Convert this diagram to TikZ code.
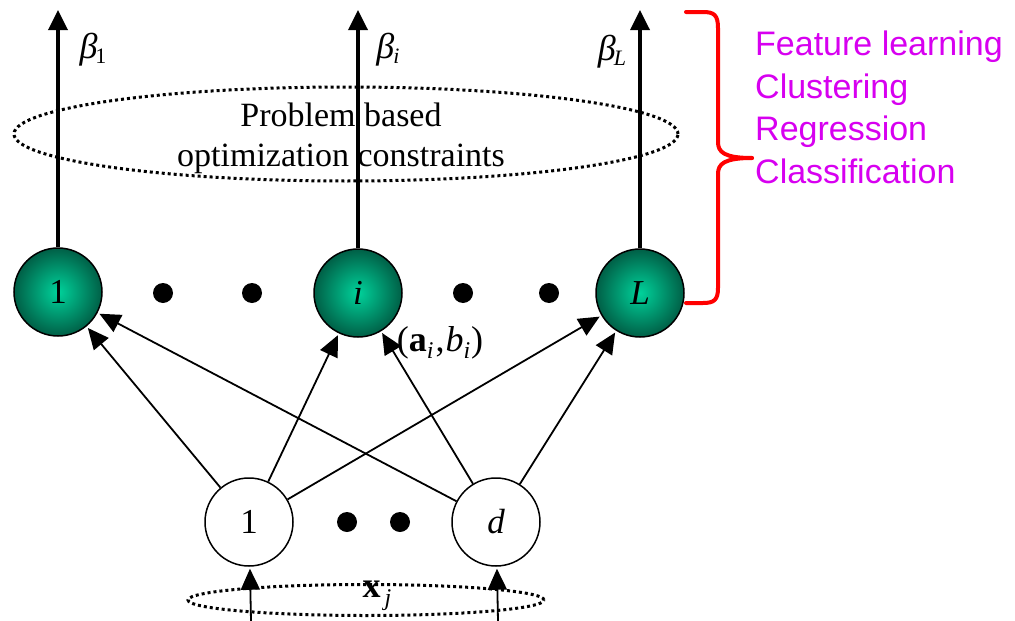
\documentclass[tikz,border=0pt]{standalone}
\usepackage{fontspec}
\setmainfont{Liberation Serif}
\newfontfamily\arialfont{Liberation Sans}
\usetikzlibrary{arrows.meta,shapes.geometric}
\definecolor{magtext}{RGB}{215,0,240}
\definecolor{ginner}{RGB}{0,210,155}
\definecolor{gouter}{RGB}{0,95,70}
\tikzset{
  hidden/.style={circle,draw=black,line width=1.5pt,minimum size=88pt,inner sep=0pt,inner color=ginner,outer color=gouter,font=\fontsize{35}{35}\selectfont},
  inputnode/.style={circle,draw=black,line width=1.5pt,minimum size=88pt,inner sep=0pt,fill=white,font=\fontsize{35}{35}\selectfont},
  bigdot/.style={circle,fill=black,minimum size=20pt,inner sep=0pt},
  conn/.style={line width=1.8pt,-{Triangle[length=21pt,width=19pt]},shorten >=2pt},
  outarrow/.style={line width=3.5pt,-{Triangle[length=20pt,width=19pt]}},
  dotring/.style={draw=black,line width=3pt,dash pattern=on 3pt off 3pt},
  betalab/.style={font=\fontsize{36}{36}\selectfont},
  tasklab/.style={font=\arialfont\fontsize{34}{42.5}\selectfont,text=magtext,align=left,anchor=north west,inner sep=0pt}
}
\begin{document}
\begin{tikzpicture}[x=1pt,y=-1pt]
\useasboundingbox (0,0) rectangle (1015,621);
% top ellipse
\node[dotring,ellipse,minimum width=664pt,minimum height=94pt] (cons) at (346,134) {};
\node[font=\fontsize{34}{40}\selectfont,align=center] (constext) at (341,138) {Problem based\\optimization constraints};
% hidden nodes
\node[hidden] (h1) at (58,292) {1};
\node[hidden] (hi) at (358,293) {\itshape i};
\node[hidden] (hL) at (640,293) {\itshape L};
\node[bigdot] (hd1) at (163,293) {};
\node[bigdot] (hd2) at (252,293) {};
\node[bigdot] (hd3) at (463,293) {};
\node[bigdot] (hd4) at (549,293) {};
% outputs
\coordinate (o1) at (58,10);
\coordinate (oi) at (358,10);
\coordinate (oL) at (640,10);
\draw[outarrow] (h1.north) -- (o1);
\draw[outarrow] (hi.north) -- (oi);
\draw[outarrow] (hL.north) -- (oL);
\node[betalab] (b1) at (93,50) {\itshape β\kern-2pt\raisebox{-0.3ex}{\fontsize{22}{22}\selectfont\upshape 1}};
\node[betalab] (bi) at (388,50) {\itshape β\kern-1pt\raisebox{-0.3ex}{\fontsize{22}{22}\selectfont i}};
\node[betalab] (bL) at (612,52) {\itshape β\kern-2pt\raisebox{-0.3ex}{\fontsize{22}{22}\selectfont L}};
% input nodes
\node[inputnode] (in1) at (249,522) {1};
\node[inputnode] (ind) at (496,522) {\itshape d};
\node[bigdot] (id1) at (347,522) {};
\node[bigdot] (id2) at (400,522) {};
% input ellipse
\node[dotring,ellipse,minimum width=356pt,minimum height=31pt] (xring) at (366,600) {};
\node[font=\fontsize{36}{36}\selectfont] (xlab) at (377,596) {\textbf{x}\raisebox{-0.5ex}{\fontsize{24}{24}\selectfont\itshape\,j}};
\coordinate (xin1) at (251,621);
\coordinate (xind) at (498,621);
\draw[conn] (xin1) -- (in1);
\draw[conn] (xind) -- (ind);
% connections
\draw[conn] (in1) -- (h1);
\draw[conn] (in1) -- (hi);
\draw[conn] (in1) -- (hL);
\draw[conn] (ind) -- (h1);
\draw[conn] (ind) -- (hi);
\draw[conn] (ind) -- (hL);
\node[font=\fontsize{36}{36}\selectfont] (ab) at (440,343) {(\textbf{a}\raisebox{-0.4ex}{\fontsize{24}{24}\selectfont\itshape i}\kern2pt,\kern1pt\textit{b}\raisebox{-0.4ex}{\fontsize{24}{24}\selectfont\itshape i}\kern1pt)};
% brace
\draw[red,line width=4pt,line cap=round,line join=round] (686,12) -- (703,12) .. controls (714,12) and (718,15) .. (718,28) -- (718,142) .. controls (718,152) and (724,158) .. (752,158);
\draw[red,line width=4pt,line cap=round,line join=round] (752,158) .. controls (724,158) and (718,164) .. (718,174) -- (718,288) .. controls (718,300) and (714,303) .. (703,303) -- (686,303);
\node[tasklab] (tasks) at (755,31) {Feature learning\\Clustering\\Regression\\Classification};
\end{tikzpicture}
\end{document}
